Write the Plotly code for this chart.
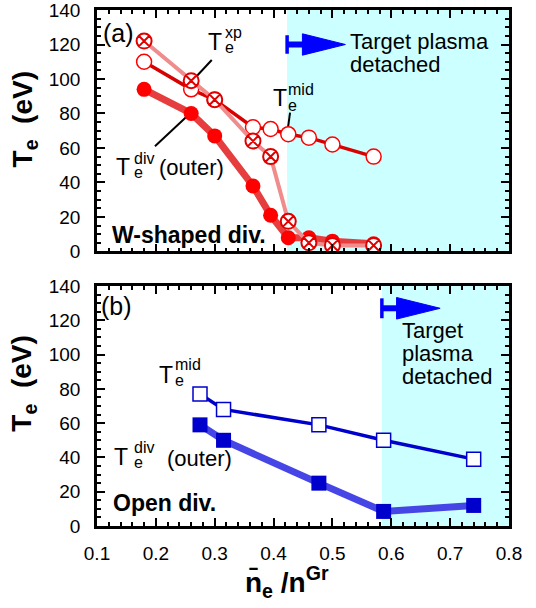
import plotly.graph_objects as go

# ---- (a) W-shaped divertor ----
w_ne = [0.18, 0.26, 0.30, 0.365, 0.395, 0.425, 0.46, 0.50, 0.57]
w_te_div = [94, 80, 67, 38, 21, 8, 8, 6, 4.5]
w_te_xp = [122, 99, 88, 64, 55, 17.5, 5, 3.5, 3.5]
w_te_mid = [110, 94, 88, 72, 71, 68, 66, 62, 55]
w_detach_start = 0.423

# ---- (b) open divertor ----
o_ne = [0.275, 0.315, 0.477, 0.587, 0.74]
o_te_div = [59, 50, 25, 8.5, 12]
o_te_mid = [77, 68, 59, 50, 39]
o_detach_start = 0.584

x_range = [0.1, 0.8]
y_range = [0, 140]
x_tick_vals = [0.1, 0.2, 0.3, 0.4, 0.5, 0.6, 0.7, 0.8]
x_tick_text = ["0.1", "0.2", "0.3", "0.4", "0.5", "0.6", "0.7", "0.8"]
y_tick_vals = [0, 20, 40, 60, 80, 100, 120, 140]

FONT = "Liberation Sans, Arial, Helvetica, sans-serif"
RED = "#ff0000"
BLUE = "#0000cc"

fig = go.Figure()

# (a) traces
fig.add_trace(go.Scatter(
    x=w_ne, y=w_te_div, mode="lines+markers", xaxis="x", yaxis="y",
    line=dict(color="rgb(230,62,62)", width=7),
    marker=dict(symbol="circle", size=15, color=RED, line=dict(width=0)),
))
fig.add_trace(go.Scatter(
    x=w_ne, y=w_te_mid, mode="lines+markers", xaxis="x", yaxis="y",
    line=dict(color="#d80000", width=3.5),
    marker=dict(symbol="circle", size=15, color="white", line=dict(color=RED, width=1.5)),
))
fig.add_trace(go.Scatter(
    x=w_ne, y=w_te_xp, mode="lines+markers", xaxis="x", yaxis="y",
    line=dict(color="#f08c8c", width=4),
    marker=dict(symbol="circle-x", size=15, color="white", line=dict(color="#e00000", width=2)),
))

# (b) traces
fig.add_trace(go.Scatter(
    x=o_ne, y=o_te_div, mode="lines+markers", xaxis="x2", yaxis="y2",
    line=dict(color="rgb(70,70,230)", width=7),
    marker=dict(symbol="square", size=15, color=BLUE, line=dict(width=0)),
))
fig.add_trace(go.Scatter(
    x=o_ne, y=o_te_mid, mode="lines+markers", xaxis="x2", yaxis="y2",
    line=dict(color=BLUE, width=3.5),
    marker=dict(symbol="square", size=14, color="white", line=dict(color=BLUE, width=1.5)),
))

shapes = []
# detached-plasma shading
for xref, yref, x0 in (("x", "y", w_detach_start), ("x2", "y2", o_detach_start)):
    shapes.append(dict(type="rect", xref=xref, yref=yref, x0=x0, x1=x_range[1],
                       y0=y_range[0], y1=y_range[1], fillcolor="#ccffff",
                       line=dict(width=0), layer="below"))


def detach_arrow(xref, yref, x0, y, x_base, x_tip, bar_h, head_h):
    """Blue bar-and-triangle arrow marking the onset of detachment."""
    col = "#0000ff"
    return [
        dict(type="line", xref=xref, yref=yref, x0=x0, x1=x0, y0=y - bar_h, y1=y + bar_h,
             line=dict(color=col, width=3.5), layer="above"),
        dict(type="line", xref=xref, yref=yref, x0=x0, x1=x_base + 0.005, y0=y, y1=y,
             line=dict(color=col, width=6), layer="above"),
        dict(type="path", xref=xref, yref=yref,
             path=f"M {x_base},{y - head_h} L {x_tip},{y} L {x_base},{y + head_h} Z",
             fillcolor=col, line=dict(color=col, width=1), layer="above"),
    ]


shapes += detach_arrow("x", "y", w_detach_start, 120, 0.449, 0.522, 5.3, 6.2)
shapes += detach_arrow("x2", "y2", o_detach_start, 127, 0.609, 0.683, 5.8, 6.3)

# leader lines to the curves in (a)
for (x0, y0, x1, y1) in ((0.295, 111, 0.262, 99), (0.428, 80.5, 0.423, 68),
                         (0.1985, 61, 0.258, 80)):
    shapes.append(dict(type="line", xref="x", yref="y", x0=x0, y0=y0, x1=x1, y1=y1,
                       line=dict(color="black", width=2), layer="below"))

annotations = []


def txt(xref, yref, x, y, text, size, bold=False, anchor="left"):
    if bold:
        text = f"<b>{text}</b>"
    annotations.append(dict(xref=xref, yref=yref, x=x, y=y, text=text, showarrow=False,
                            xanchor=anchor, yanchor="middle",
                            font=dict(family=FONT, size=size, color="black")))


def te_label(xref, yref, x, y, sup, sx, sy_up, sy_dn):
    """T with stacked superscript / subscript 'e'."""
    txt(xref, yref, x, y, "T", 23)
    txt(xref, yref, sx, sy_up, sup, 16)
    txt(xref, yref, sx, sy_dn, "e", 16)


# (a) labels
txt("x", "y", 0.106, 126.5, "(a)", 25)
txt("x", "y", 0.122, 9.5, "W-shaped div.", 23, bold=True)
te_label("x", "y", 0.285, 121.2, "xp", 0.3135, 127.0, 118.2)
te_label("x", "y", 0.395, 89.1, "mid", 0.4215, 94.0, 84.8)
te_label("x", "y", 0.129, 48.8, "div", 0.160, 54.0, 45.9)
txt("x", "y", 0.202, 48.6, "(outer)", 22)
txt("x", "y", 0.527, 121.6, "Target plasma", 22)
txt("x", "y", 0.527, 108.6, "detached", 22)

# (b) labels
txt("x2", "y2", 0.103, 128.1, "(b)", 25)
txt("x2", "y2", 0.124, 13.7, "Open div.", 23, bold=True)
te_label("x2", "y2", 0.202, 88.1, "mid", 0.2295, 94.5, 84.6)
te_label("x2", "y2", 0.125, 40.5, "div", 0.160, 45.8, 37.0)
txt("x2", "y2", 0.216, 39.5, "(outer)", 22)
txt("x2", "y2", 0.615, 114.0, "Target", 22)
txt("x2", "y2", 0.615, 100.4, "plasma", 22)
txt("x2", "y2", 0.615, 87.2, "detached", 22)

# axis titles
for ypos in (0.788, 0.276):
    annotations.append(dict(xref="paper", yref="paper", x=-0.177, y=ypos,
                            text="<b>T<sub>e</sub>  (eV)</b>", textangle=-90, showarrow=False,
                            xanchor="center", yanchor="middle",
                            font=dict(family=FONT, size=28, color="black")))
annotations.append(dict(xref="paper", yref="paper", x=0.46, y=-0.1085,
                        text="<b>n\u0304<sub>e</sub> /n<sup>Gr</sup></b>", showarrow=False,
                        xanchor="center", yanchor="middle",
                        font=dict(family=FONT, size=28, color="black")))

tick_common = dict(
    ticks="inside", ticklen=8, tickwidth=1.5, tickcolor="black",
    showline=True, linewidth=2.5, linecolor="black", mirror="ticks",
    showgrid=False, zeroline=False, automargin=False,
    ticklabeloverflow="allow",
    tickfont=dict(family=FONT, size=19, color="black"),
)
x_common = dict(tick_common, range=x_range, tickmode="array", tickvals=x_tick_vals,
                ticktext=x_tick_text,
                minor=dict(dtick=0.02, tick0=0.1, ticks="inside", ticklen=4,
                           tickwidth=1.5, tickcolor="black"))
y_common = dict(tick_common, range=y_range, tickmode="array", tickvals=y_tick_vals,
                ticklabelstandoff=10,
                minor=dict(dtick=5, tick0=0, ticks="inside", ticklen=4,
                           tickwidth=1.5, tickcolor="black"))

fig.update_layout(
    width=536, height=608,
    margin=dict(l=97, r=27, t=10, b=82, autoexpand=False),
    paper_bgcolor="white", plot_bgcolor="white",
    showlegend=False,
    font=dict(family=FONT, color="black"),
    xaxis=dict(x_common, domain=[0, 1], anchor="y", showticklabels=False),
    yaxis=dict(y_common, domain=[0.532, 1], anchor="x"),
    xaxis2=dict(x_common, domain=[0, 1], anchor="y2", ticklabelstandoff=8),
    yaxis2=dict(y_common, domain=[0, 0.4651], anchor="x2"),
    shapes=shapes,
    annotations=annotations,
)

fig.write_html("out.html")
